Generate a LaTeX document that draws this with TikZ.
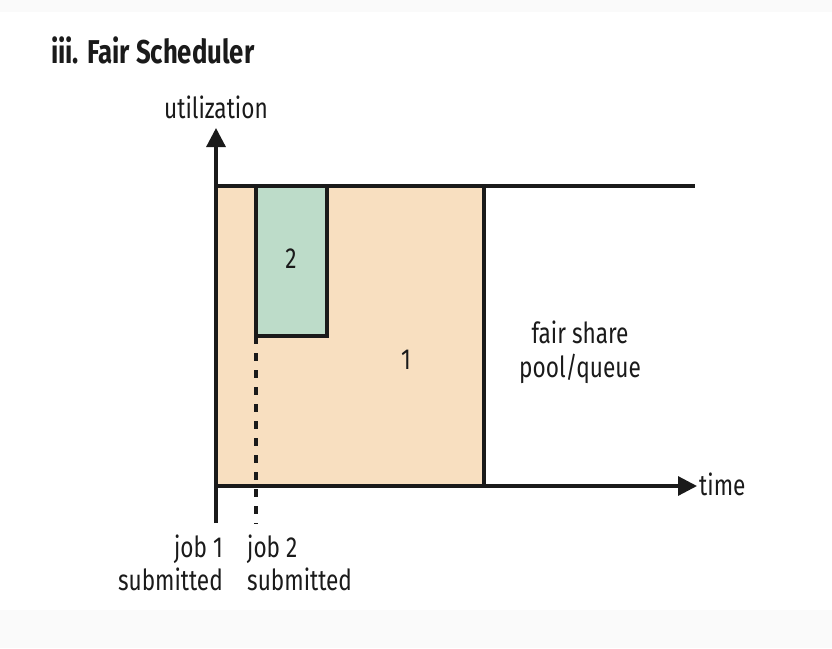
\documentclass[tikz,border=0pt]{standalone}
\usepackage{fontspec}
\setmainfont{Fira Sans}[FakeStretch=0.78]
\usetikzlibrary{arrows.meta}
\definecolor{peach}{HTML}{F8DFC0}
\definecolor{mint}{HTML}{BDDCC9}
\definecolor{band}{HTML}{FAFAFA}
\definecolor{ink}{HTML}{1A1A1A}
\begin{document}
\begin{tikzpicture}[x=1pt,y=-1pt,
  axis/.style={line width=3.2pt,draw=ink},
  lbl/.style={font=\fontsize{29}{33}\selectfont,text=ink,inner sep=0pt},
  tip/.style={-{Triangle[length=19pt,width=19pt]}}]
\useasboundingbox (0,0) rectangle (832,648);
\fill[band] (0,0) rectangle (832,12);
\fill[band] (0,610) rectangle (832,648);
% blocks
\filldraw[fill=peach,axis] (216,186) rectangle (484,486);
\filldraw[fill=mint,axis] (256,186) rectangle (327,336);
% top line
\draw[axis] (216,186) -- (695,186);
% dashed job 2
\draw[axis,line width=3.6pt,dash pattern=on 8pt off 9pt] (256,336) -- (256,524);
% axes
\coordinate (o) at (216,486);
\coordinate (ytop) at (216,128);
\coordinate (ybot) at (216,523);
\coordinate (xend) at (697,486);
\draw[axis,tip] (ybot) -- (ytop);
\draw[axis,tip] (o) -- (xend);
% labels
\node[lbl,font=\fontsize{33}{37}\selectfont\bfseries,anchor=base west] (title) at (51,63) {iii. Fair Scheduler};
\node[lbl,anchor=base] (util) at (216,118) {utilization};
\node[lbl,anchor=base west] (time) at (699,495) {time};
\node[lbl,anchor=base] (two) at (291,268) {2};
\node[lbl,anchor=base] (one) at (406,369) {1};
\node[lbl,anchor=base,align=center] (fs) at (580,343) {fair share};
\node[lbl,anchor=base,align=center] (pq) at (580,377) {pool/queue};
\node[lbl,anchor=base east] (j1a) at (223,557) {job 1};
\node[lbl,anchor=base east] (j1b) at (223,590) {submitted};
\node[lbl,anchor=base west] (j2a) at (247,557) {job 2};
\node[lbl,anchor=base west] (j2b) at (247,590) {submitted};
\end{tikzpicture}
\end{document}
